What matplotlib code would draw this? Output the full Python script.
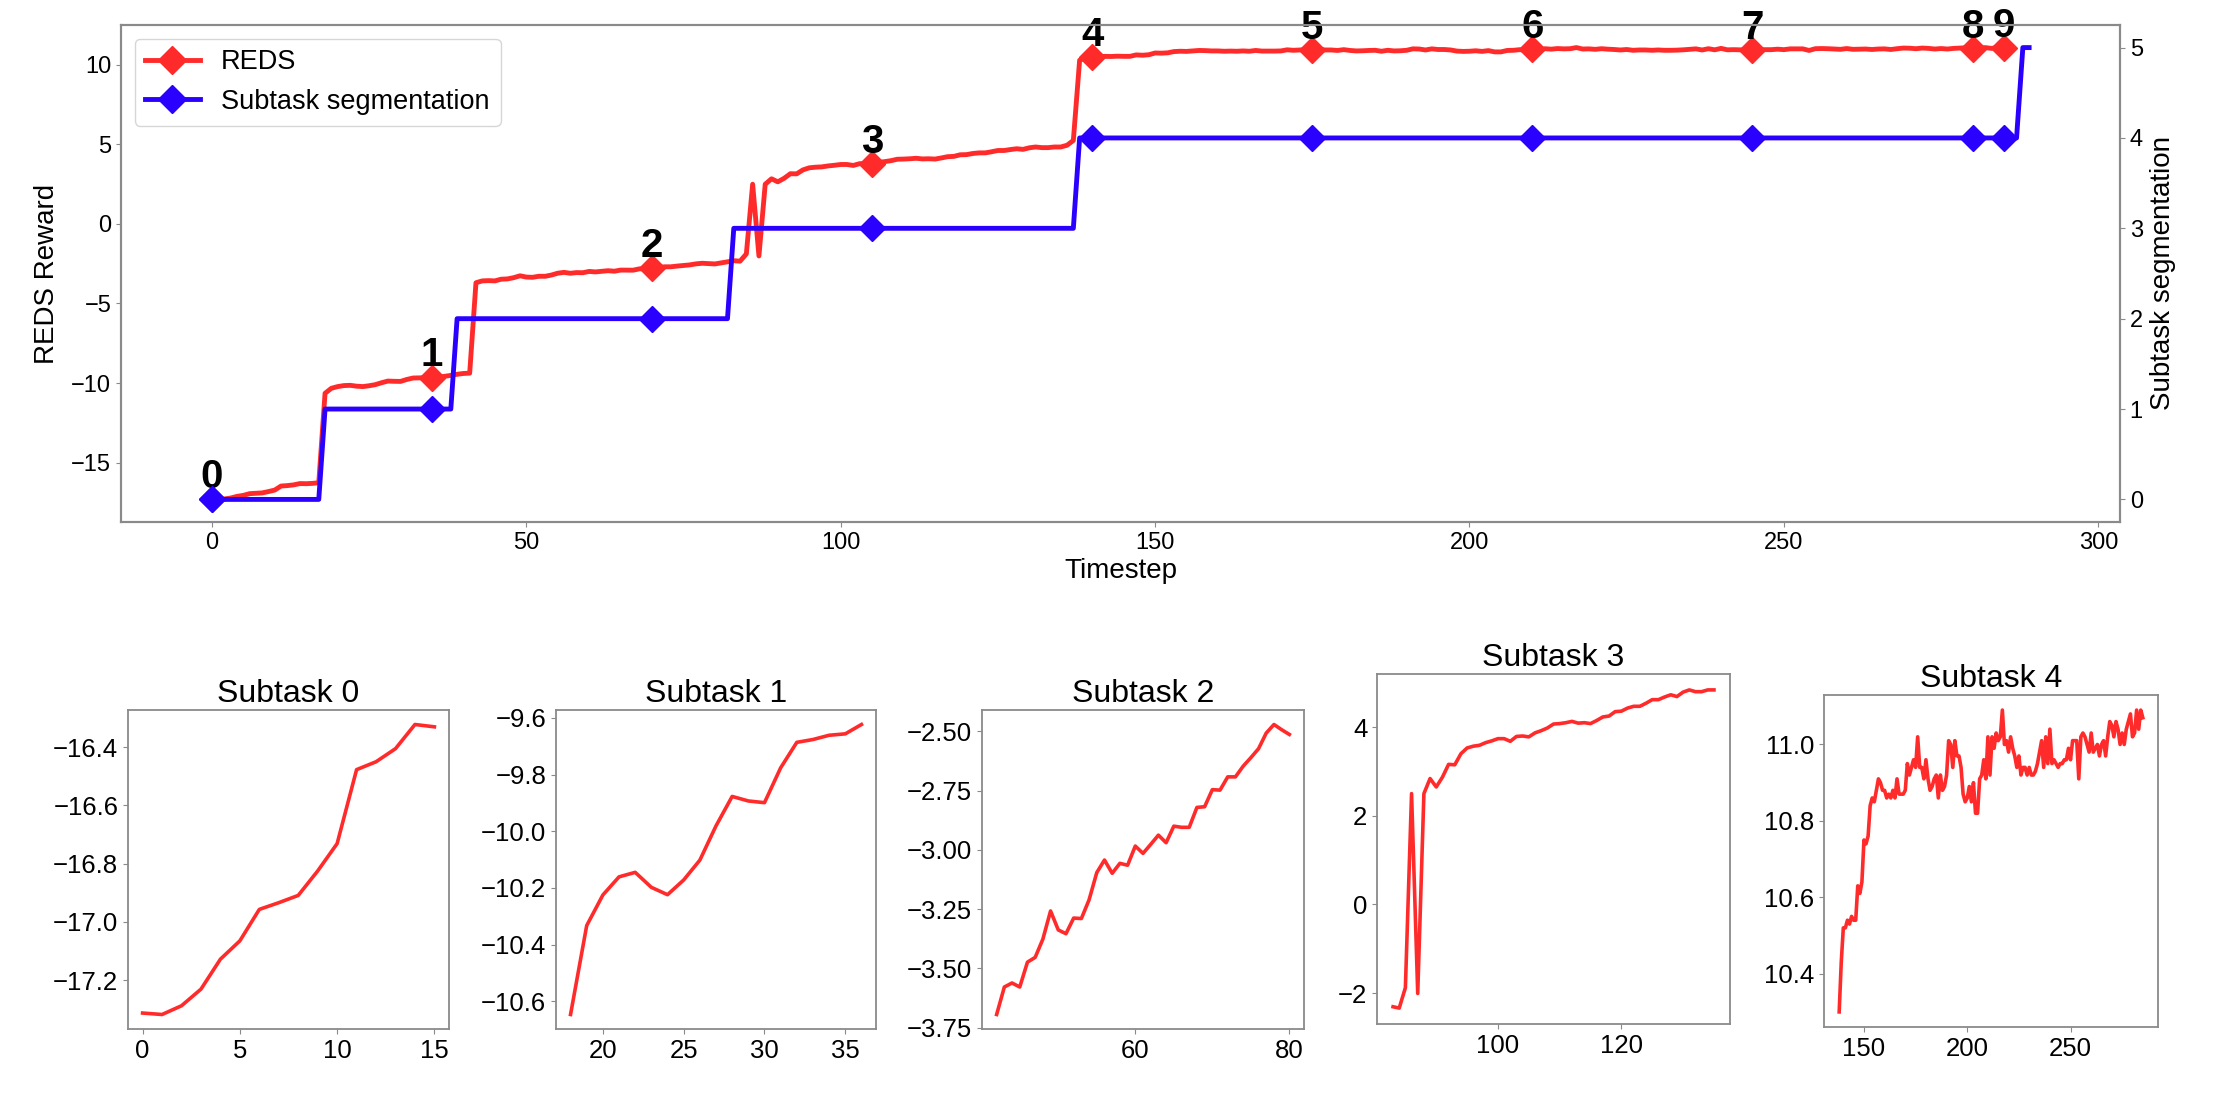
import numpy as np
import matplotlib
matplotlib.use("Agg")
import matplotlib.pyplot as plt
from matplotlib.lines import Line2D

plt.rcParams['font.family'] = ['Liberation Sans', 'DejaVu Sans']

# ---------------- data ----------------
# REDS reward per timestep, split by the pieces shown in the small panels
sub0_t = list(range(0, 16))
sub0 = [-17.313, -17.318, -17.288, -17.231, -17.128, -17.065, -16.957, -16.934,
        -16.909, -16.825, -16.731, -16.477, -16.450, -16.405, -16.322, -16.330]
gap0 = [-16.31, -16.27]                      # t = 16, 17

sub1_t = list(range(18, 37))
sub1 = [-10.647, -10.333, -10.225, -10.161, -10.145, -10.198, -10.224, -10.172,
        -10.102, -9.981, -9.877, -9.893, -9.899, -9.776, -9.686, -9.676,
        -9.661, -9.656, -9.623]
gap1 = [-9.58, -9.52, -9.45, -9.40, -9.38]   # t = 37..41

sub2_t = list(range(42, 81))
sub2 = [-3.695, -3.579, -3.562, -3.579, -3.474, -3.454, -3.377, -3.258, -3.338,
        -3.354, -3.288, -3.290, -3.211, -3.096, -3.043, -3.099, -3.057, -3.065,
        -2.984, -3.015, -2.977, -2.938, -2.970, -2.900, -2.905, -2.905, -2.821,
        -2.818, -2.746, -2.748, -2.692, -2.692, -2.647, -2.611, -2.573, -2.507,
        -2.471, -2.493, -2.513]
gap2 = [-2.45, -2.38]                        # t = 81, 82

sub3_t = list(range(83, 136))
sub3 = [-2.31, -2.34, -1.88, 2.50, -2.01, 2.50, 2.84, 2.65, 2.87, 3.16, 3.15,
        3.40, 3.53, 3.57, 3.59, 3.65, 3.69, 3.74, 3.74, 3.68, 3.79, 3.80, 3.78,
        3.87, 3.92, 3.98, 4.07, 4.08, 4.10, 4.13, 4.09, 4.10, 4.08, 4.15, 4.23,
        4.25, 4.35, 4.36, 4.43, 4.47, 4.47, 4.54, 4.62, 4.62, 4.68, 4.73, 4.69,
        4.79, 4.84, 4.80, 4.80, 4.84, 4.84]
gap3 = [4.95, 5.25]                          # t = 136, 137

sub4_t = list(range(138, 286))
sub4 = [10.30, 10.43, 10.52, 10.52, 10.54, 10.53, 10.55, 10.54, 10.54, 10.63,
        10.61, 10.64, 10.75, 10.74, 10.76, 10.84, 10.86, 10.85, 10.88, 10.91,
        10.90, 10.88, 10.88, 10.86, 10.87, 10.86, 10.88, 10.86, 10.91, 10.87,
        10.87, 10.87, 10.88, 10.95, 10.92, 10.94, 10.96, 10.94, 11.02, 10.94,
        10.94, 10.91, 10.96, 10.91, 10.88, 10.89, 10.91, 10.92, 10.86, 10.92,
        10.88, 10.89, 10.92, 11.01, 11.00, 10.94, 11.01, 10.97, 10.97, 10.94,
        10.87, 10.85, 10.86, 10.89, 10.85, 10.90, 10.82, 10.82, 10.91, 10.92,
        10.96, 10.91, 11.02, 10.92, 11.02, 10.99, 11.03, 11.01, 11.02, 11.09,
        11.00, 11.01, 10.98, 11.02, 10.99, 10.97, 10.94, 10.97, 10.92, 10.94,
        10.94, 10.92, 10.94, 10.92, 10.92, 10.93, 10.95, 10.98, 11.01, 10.94,
        11.02, 10.95, 11.04, 10.95, 10.96, 10.95, 10.94, 10.95, 10.95, 10.96,
        10.96, 10.99, 10.96, 11.01, 11.01, 11.01, 10.91, 11.02, 11.03, 11.02,
        11.00, 10.98, 11.03, 10.98, 10.99, 11.00, 10.97, 11.00, 11.01, 10.97,
        11.02, 11.06, 11.05, 11.02, 11.06, 11.04, 11.00, 11.03, 11.00, 11.04,
        11.06, 11.08, 11.02, 11.03, 11.09, 11.04, 11.09, 11.07]

# subtask segmentation: subtask id and first timestep of each subtask
seg_ids = [0, 1, 2, 3, 4, 5]
seg_starts = [0, 18, 39, 83, 138, 288]
seg_end = 290  # exclusive

# key frames with numbered markers
key_frames = [0, 35, 70, 105, 140, 175, 210, 245, 280, 285]
key_labels = ['0', '1', '2', '3', '4', '5', '6', '7', '8', '9']

panel_titles = ['Subtask 0', 'Subtask 1', 'Subtask 2', 'Subtask 3', 'Subtask 4']
panel_t = [sub0_t, sub1_t, sub2_t, sub3_t, sub4_t]
panel_v = [sub0, sub1, sub2, sub3, sub4]
panel_xticks = [[0, 5, 10, 15], [20, 25, 30, 35], [60, 80], [100, 120], [150, 200, 250]]
panel_yticks = [[-17.2, -17.0, -16.8, -16.6, -16.4],
                [-10.6, -10.4, -10.2, -10.0, -9.8, -9.6],
                [-3.75, -3.5, -3.25, -3.0, -2.75, -2.5],
                [-2, 0, 2, 4],
                [10.4, 10.6, 10.8, 11.0]]
panel_yfmt = ['%.1f', '%.1f', '%.2f', '%d', '%.1f']

# ---------------- assemble series ----------------
reds = np.array(sub0 + gap0 + sub1 + gap1 + sub2 + gap2 + sub3 + gap3 + sub4)
t_reds = np.arange(len(reds))
seg_lengths = np.diff(seg_starts + [seg_end])
segmentation = np.repeat(seg_ids, seg_lengths)
t_seg = np.arange(len(segmentation))

RED = '#ff2b2b'
BLUE = '#2a00ff'
SPINE = '#8a8a8a'

W, H = 2214, 1094
fig = plt.figure(figsize=(W / 100, H / 100), dpi=100)

def rect(l, t, r, b):
    return [l / W, 1 - b / H, (r - l) / W, (b - t) / H]

# ---------------- top chart ----------------
ax = fig.add_axes(rect(121, 25, 2120, 522))
ax2 = ax.twinx()
kf = np.array(key_frames)
ax.plot(t_reds, reds, color=RED, lw=3.5, zorder=3)
ax.plot(kf, reds[kf], ls='none', marker='D', ms=13.5, color=RED, zorder=4)
ax2.plot(t_seg, segmentation, color=BLUE, lw=3.5, zorder=3)
ax2.plot(kf, segmentation[kf], ls='none', marker='D', ms=13.5, color=BLUE, zorder=4)

for f, lab in zip(key_frames, key_labels):
    ax.annotate(lab, (f, reds[f]), xytext=(0, 8), textcoords='offset points',
                ha='center', va='baseline', fontsize=29, fontweight='bold', zorder=5)

ax.set_xticks([0, 50, 100, 150, 200, 250, 300])
ax.set_yticks([-15, -10, -5, 0, 5, 10])
ax2.set_yticks([0, 1, 2, 3, 4, 5])
ax.set_xlabel('Timestep', fontsize=20, labelpad=3)
ax.set_ylabel('REDS Reward', fontsize=20, labelpad=8)
ax2.set_ylabel('Subtask segmentation', fontsize=20, labelpad=5)
for a in (ax, ax2):
    a.tick_params(labelsize=17, color=SPINE)
    for s in a.spines.values():
        s.set_color(SPINE)
        s.set_linewidth(1.5)

h1 = Line2D([], [], color=RED, lw=3.5, marker='D', ms=14)
h2 = Line2D([], [], color=BLUE, lw=3.5, marker='D', ms=14)
ax.legend([h1, h2], ['REDS', 'Subtask segmentation'], loc='upper left',
          fontsize=19.5, borderaxespad=0.5)

# ---------------- bottom panels ----------------
panel_rects = [(128, 710, 449, 1029), (556, 710, 876, 1029), (982, 710, 1304, 1029),
               (1377, 674, 1730, 1024), (1824, 695, 2158, 1027)]
for i in range(5):
    a = fig.add_axes(rect(*panel_rects[i]))
    a.plot(panel_t[i], panel_v[i], color=RED, lw=2.6)
    a.set_title(panel_titles[i], fontsize=23)
    a.set_xticks(panel_xticks[i])
    a.set_yticks(panel_yticks[i])
    a.set_yticklabels([(panel_yfmt[i] % v).replace('-', '\u2212') for v in panel_yticks[i]])
    a.tick_params(labelsize=18.5, color=SPINE)
    for s in a.spines.values():
        s.set_color(SPINE)
        s.set_linewidth(1.3)

fig.savefig('out.png', dpi=100)
